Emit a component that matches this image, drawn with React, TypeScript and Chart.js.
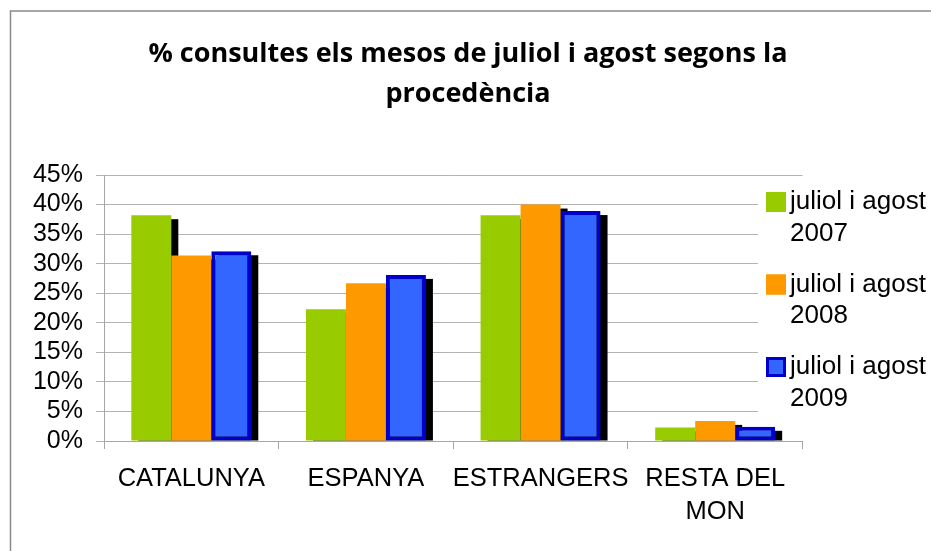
import React, { useEffect, useRef } from 'react';
import { Chart, registerables } from 'chart.js';

Chart.register(...registerables);

// ---- data ----
const categories: string[][] = [['CATALUNYA'], ['ESPANYA'], ['ESTRANGERS'], ['RESTA DEL', 'MON']];
const seriesNames: string[][] = [
  ['juliol i agost', '2007'],
  ['juliol i agost', '2008'],
  ['juliol i agost', '2009'],
];
const values2007 = [38.2, 22.3, 38.2, 2.3];
const values2008 = [31.4, 26.7, 40.0, 3.4];
const values2009 = [32.1, 28.1, 38.9, 2.4];
const yMin = 0;
const yMax = 45;
const yStep = 5;
const titleLines = ['% consultes els mesos de juliol i agost segons la', 'procedència'];

// ---- styles ----
const fills = ['#99CC00', '#FF9900', '#3366FF'];
const strokes = ['#99CC00', '#FF9900', '#0000CC'];
const strokeWidths = [0, 0, 4];
const AXIS_FONT = "'Liberation Sans', Arial, sans-serif";
const TITLE_FONT = "'Open Sans', 'Liberation Sans', sans-serif";

const framePlugin = {
  id: 'frame',
  beforeDraw(chart: any) {
    const ctx = chart.ctx;
    ctx.save();
    ctx.fillStyle = '#ffffff';
    ctx.fillRect(0, 0, chart.width, chart.height);
    ctx.strokeStyle = '#8a8a8a';
    ctx.lineWidth = 1.5;
    ctx.beginPath();
    ctx.moveTo(10.5, chart.height);
    ctx.lineTo(10.5, 11);
    ctx.lineTo(chart.width, 11);
    ctx.stroke();
    ctx.restore();
  },
};

const shadowPlugin = {
  id: 'barShadow',
  beforeDatasetsDraw(chart: any) {
    const ctx = chart.ctx;
    ctx.save();
    ctx.fillStyle = '#000000';
    chart.data.datasets.forEach((_ds: any, i: number) => {
      const meta = chart.getDatasetMeta(i);
      meta.data.forEach((bar: any) => {
        const p = bar.getProps(['x', 'y', 'base', 'width'], true);
        const left = p.x - p.width / 2 + 7;
        const top = p.y + 4;
        if (p.base > top) ctx.fillRect(left, top, p.width, p.base - top);
      });
    });
    ctx.restore();
  },
};

const overlayPlugin = {
  id: 'overlay',
  afterDraw(chart: any) {
    const ctx = chart.ctx;
    ctx.save();
    // title
    ctx.fillStyle = '#000000';
    ctx.font = `bold 27px ${TITLE_FONT}`;
    ctx.textAlign = 'center';
    ctx.textBaseline = 'alphabetic';
    ctx.fillText(titleLines[0], 468, 62);
    ctx.fillText(titleLines[1], 468, 102);

    // legend box (overlaps plot, white background)
    ctx.fillStyle = '#ffffff';
    ctx.fillRect(758, 180, 170, 240);
    ctx.font = `26px ${AXIS_FONT}`;
    ctx.textAlign = 'left';
    ctx.textBaseline = 'middle';
    seriesNames.forEach((lines, i) => {
      const cy = 202 + i * 82.5;
      const sq = 20;
      const sx = 766;
      const sy = cy - 10;
      ctx.fillStyle = strokes[i];
      ctx.fillRect(sx, sy, sq, sq);
      if (strokeWidths[i] > 0) {
        const bw = 3;
        ctx.fillStyle = fills[i];
        ctx.fillRect(sx + bw, sy + bw, sq - 2 * bw, sq - 2 * bw);
      } else {
        ctx.fillStyle = fills[i];
        ctx.fillRect(sx, sy, sq, sq);
      }
      ctx.fillStyle = '#000000';
      lines.forEach((t, j) => ctx.fillText(t, 790, cy + j * 31.5));
    });
    ctx.restore();
  },
};

export default function App() {
  const ref = useRef<HTMLCanvasElement>(null);

  useEffect(() => {
    if (!ref.current) return;
    const seriesValues = [values2007, values2008, values2009];
    const chart = new Chart(ref.current, {
      type: 'bar',
      data: {
        labels: categories as any,
        datasets: seriesValues.map((vals, i) => ({
          label: seriesNames[i].join(' '),
          data: vals,
          backgroundColor: fills[i],
          borderColor: strokes[i],
          borderWidth: strokeWidths[i],
          borderSkipped: false,
          categoryPercentage: 0.687,
          barPercentage: 1.0,
        })),
      },
      options: {
        responsive: false,
        animation: false,
        devicePixelRatio: 1,
        layout: { padding: { top: 175, right: 128.5, bottom: 0, left: 0 } },
        plugins: {
          legend: { display: false },
          title: { display: false },
          tooltip: { enabled: false },
        },
        scales: {
          x: {
            grid: {
              display: true,
              drawOnChartArea: false,
              drawTicks: true,
              tickLength: 8,
              color: '#a6a6a6',
              offset: true,
            },
            border: { display: true, color: '#a6a6a6', width: 1 },
            ticks: {
              color: '#000000',
              padding: 13,
              maxRotation: 0,
              autoSkip: false,
              font: { family: AXIS_FONT, size: 25.5, lineHeight: 1.3 },
            },
            afterFit: (scale: any) => {
              scale.height = 110;
            },
          },
          y: {
            min: yMin,
            max: yMax,
            grid: {
              color: '#b3b3b3',
              lineWidth: 1,
              drawTicks: true,
              tickLength: 8,
            },
            border: { display: true, color: '#a6a6a6', width: 1 },
            ticks: {
              stepSize: yStep,
              autoSkip: false,
              color: '#000000',
              padding: 13,
              font: { family: AXIS_FONT, size: 25 },
              callback: (v: any) => `${v}%`,
            },
            afterFit: (scale: any) => {
              scale.width = 104;
            },
          },
        },
      },
      plugins: [framePlugin, shadowPlugin, overlayPlugin],
    });
    return () => chart.destroy();
  }, []);

  return (
    <div style={{ position: 'fixed', left: 0, top: 0, width: 931, height: 551 }}>
      <canvas ref={ref} width={931} height={551} style={{ display: 'block', width: 931, height: 551 }} />
    </div>
  );
}
